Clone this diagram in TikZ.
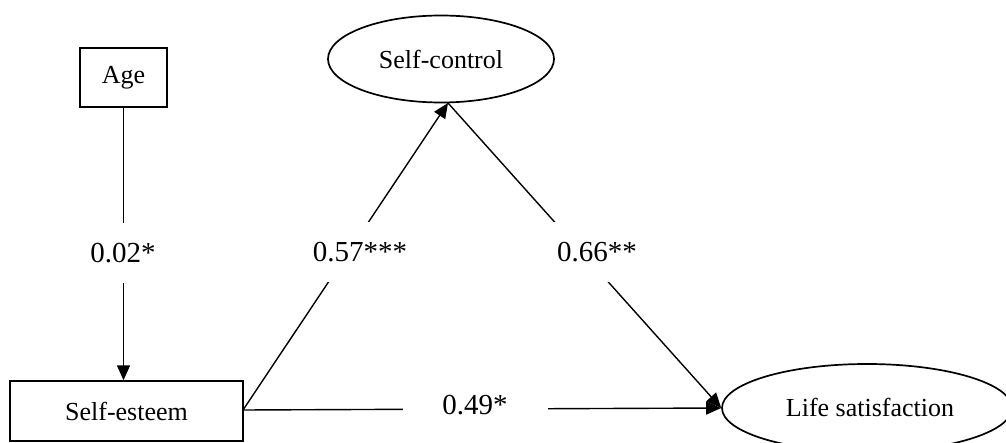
\documentclass[tikz,border=0pt]{standalone}
\usepackage{fontspec}
\setmainfont{Liberation Serif}
\usetikzlibrary{arrows.meta,shapes.geometric}
\begin{document}
\begin{tikzpicture}[x=1pt,y=-1pt,
  boxnode/.style={draw,line width=1.4pt,inner sep=0pt,font=\fontsize{26}{30}\selectfont},
  ovalnode/.style={draw,ellipse,line width=1.7pt,inner sep=0pt,font=\fontsize{26}{30}\selectfont},
  conn/.style={line width=1.4pt,-{Triangle[length=15pt,width=13pt]}},
  lbl/.style={fill=white,inner sep=0pt,minimum height=60pt,font=\fontsize{29}{33}\selectfont}]
\useasboundingbox (0,0) rectangle (1006,443);
\clip (0,0) rectangle (1006,443);
\node[boxnode,minimum width=87pt,minimum height=59pt] (age) at (123.5,77.5) {Age};
\node[boxnode,minimum width=233pt,minimum height=60pt] (se) at (126.5,411) {Self-esteem};
\node[ovalnode,minimum width=226pt,minimum height=87pt] (sc) at (441,59) {Self-control};
\node[ovalnode,minimum width=290pt,minimum height=88pt] (ls) at (867,408) {};
\node[font=\fontsize{26}{30}\selectfont] (lstext) at (870,407) {Life satisfaction};
\coordinate (sebot) at (448,103);
\coordinate (sefork) at (243,410);
\draw[conn] (age.south) -- (age.south |- se.north);
\draw[conn] (sefork) -- (sebot);
\draw[conn] (sebot) -- (ls.west);
\draw[conn] (sefork) -- (ls.west);
\node[lbl,minimum width=70pt] (l1) at (123,253) {0.02*};
\node[lbl,minimum width=100pt] (l2) at (360,252) {0.57***};
\node[lbl,minimum width=90pt] (l3) at (597,252) {0.66**};
\node[lbl,minimum width=145pt,minimum height=20pt] (l4) at (475,405) {0.49*};
\end{tikzpicture}
\end{document}
